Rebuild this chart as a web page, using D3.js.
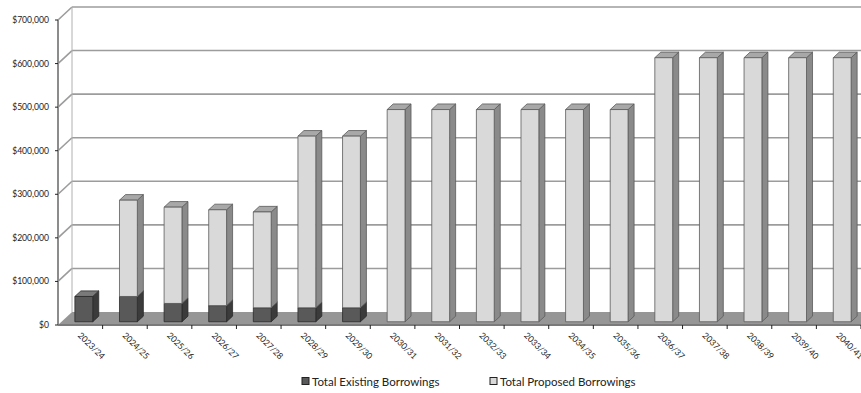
<!DOCTYPE html>
<html>
<head>
<meta charset="utf-8">
<script src="https://cdn.jsdelivr.net/npm/d3@7"></script>
<style>
  body { margin: 0; background: #fff; }
  svg text { font-family: Lato, "Liberation Sans", sans-serif; fill: #222; }
</style>
</head>
<body>
<svg id="chart" width="861" height="393"></svg>
<script>
(function (d3) {

    /***** Data *****/
    var years = ["2023/24", "2024/25", "2025/26", "2026/27", "2027/28", "2028/29", "2029/30",
                 "2030/31", "2031/32", "2032/33", "2033/34", "2034/35", "2035/36",
                 "2036/37", "2037/38", "2038/39", "2039/40", "2040/41"];
    var existingBorrowings = [58000, 58000, 42000, 37000, 32000, 32000, 32000,
                              0, 0, 0, 0, 0, 0, 0, 0, 0, 0, 0];
    var proposedBorrowings = [0, 221000, 221000, 220000, 220000, 394000, 394000,
                              487000, 487000, 487000, 487000, 487000, 487000,
                              606000, 606000, 606000, 606000, 606000];
    var yTickValues = [0, 100000, 200000, 300000, 400000, 500000, 600000, 700000];
    var seriesNames = ["Total Existing Borrowings", "Total Proposed Borrowings"];

    /***** Configuration *****/
    var width = 861, height = 393;
    var plot = { left: 58, right: 861, top: 20, bottom: 325 };
    var depth = { dx: 14, dy: -13 };        // 3D wall depth
    var barFront = 0.25, barBack = 0.68;    // bar position in depth (fraction)

    var palette = {
        existing: { front: "#595959", side: "#3b3b3b", top: "#7a7a7a", stroke: "#2a2a2a" },
        proposed: { front: "#d9d9d9", side: "#8a8a8a", top: "#a8a8a8", stroke: "#5a5a5a" }
    };

    /***** Scales *****/
    var x = d3.scaleBand().domain(years).range([plot.left, plot.right]).padding(0);
    var y = d3.scaleLinear().domain([0, 700000]).range([plot.bottom, plot.top]);
    var barWidth = x.bandwidth() * 0.4;

    var svg = d3.select("#chart");

    function off(t) { return [depth.dx * t, depth.dy * t]; }

    /***** Walls and gridlines *****/
    var grid = svg.append("g");
    var back = off(1);

    // diagonal lines on the left wall
    grid.selectAll(".side-line")
        .data(yTickValues.slice(1))
        .enter().append("line")
        .attr("x1", plot.left).attr("y1", function (d) { return y(d); })
        .attr("x2", plot.left + back[0]).attr("y2", function (d) { return y(d) + back[1]; })
        .attr("stroke", "#9c9c9c").attr("stroke-width", 1.6);

    // back wall gridlines
    grid.selectAll(".back-line")
        .data(yTickValues.slice(1))
        .enter().append("line")
        .attr("x1", plot.left + back[0]).attr("y1", function (d) { return y(d) + back[1]; })
        .attr("x2", width).attr("y2", function (d) { return y(d) + back[1]; })
        .attr("stroke", "#9c9c9c").attr("stroke-width", 1.6);

    // back wall left edge
    grid.append("line")
        .attr("x1", plot.left + back[0]).attr("y1", y(700000) + back[1])
        .attr("x2", plot.left + back[0]).attr("y2", y(0) + back[1])
        .attr("stroke", "#b0b0b0").attr("stroke-width", 1);

    // floor
    svg.append("polygon")
        .attr("points", [
            [plot.left, y(0)], [plot.right + 20, y(0)],
            [plot.right + 20 + back[0], y(0) + back[1]], [plot.left + back[0], y(0) + back[1]]
        ].join(" "))
        .attr("fill", "#969696");

    /***** Y axis *****/
    var yAxis = svg.append("g");
    yAxis.append("line")
        .attr("x1", plot.left).attr("y1", y(700000))
        .attr("x2", plot.left).attr("y2", y(0))
        .attr("stroke", "#8c8c8c").attr("stroke-width", 2);
    yAxis.selectAll(".tick")
        .data(yTickValues)
        .enter().append("line")
        .attr("x1", plot.left - 3).attr("x2", plot.left)
        .attr("y1", function (d) { return y(d); }).attr("y2", function (d) { return y(d); })
        .attr("stroke", "#222").attr("stroke-width", 1);
    var fmt = d3.format(",");
    yAxis.selectAll(".label")
        .data(yTickValues)
        .enter().append("text")
        .attr("x", plot.left - 9)
        .attr("y", function (d) { return y(d); })
        .attr("dy", "0.35em")
        .attr("text-anchor", "end")
        .style("font-size", "8.6px")
        .text(function (d) { return "$" + fmt(d); });

    /***** X axis *****/
    var xAxis = svg.append("g");
    xAxis.append("line")
        .attr("x1", plot.left).attr("y1", y(0))
        .attr("x2", width).attr("y2", y(0))
        .attr("stroke", "#7a7a7a").attr("stroke-width", 2);
    xAxis.selectAll(".tick")
        .data(years)
        .enter().append("line")
        .attr("x1", function (d) { return x(d) + x.bandwidth(); })
        .attr("x2", function (d) { return x(d) + x.bandwidth(); })
        .attr("y1", y(0)).attr("y2", y(0) + 4)
        .attr("stroke", "#222").attr("stroke-width", 1);
    xAxis.selectAll(".label")
        .data(years)
        .enter().append("text")
        .attr("transform", function (d) {
            return "translate(" + (x(d) + x.bandwidth() / 2 - 3) + "," + (y(0) + 11) + ") rotate(45)";
        })
        .style("font-size", "8.6px")
        .text(function (d) { return d; });

    /***** Bars *****/
    var stacks = years.map(function (yr, i) {
        var e = existingBorrowings[i], p = proposedBorrowings[i];
        return [
            { year: yr, v0: 0, v1: e, kind: "existing" },
            { year: yr, v0: e, v1: e + p, kind: "proposed" }
        ].filter(function (s) { return s.v1 > s.v0; });
    });

    var f = off(barFront), b = off(barBack);
    var sideW = b[0] - f[0], sideH = b[1] - f[1];

    var bars = svg.append("g");
    stacks.forEach(function (segs) {
        segs.forEach(function (s) {
            var c = palette[s.kind];
            var x0 = x(s.year) + (x.bandwidth() - barWidth) / 2 + f[0];
            var x1 = x0 + barWidth;
            var yTop = y(s.v1) + f[1], yBot = y(s.v0) + f[1];
            var g = bars.append("g").attr("stroke", c.stroke).attr("stroke-width", 0.8)
                        .attr("stroke-linejoin", "round");
            g.append("polygon")
                .attr("points", [[x1, yBot], [x1 + sideW, yBot + sideH], [x1 + sideW, yTop + sideH], [x1, yTop]].join(" "))
                .attr("fill", c.side);
            g.append("polygon")
                .attr("points", [[x0, yTop], [x1, yTop], [x1 + sideW, yTop + sideH], [x0 + sideW, yTop + sideH]].join(" "))
                .attr("fill", c.top);
            g.append("rect")
                .attr("x", x0).attr("y", yTop)
                .attr("width", barWidth).attr("height", yBot - yTop)
                .attr("fill", c.front);
        });
    });

    /***** Legend *****/
    var legendX = [302, 490];
    var legend = svg.append("g");
    seriesNames.forEach(function (name, i) {
        var c = i === 0 ? palette.existing : palette.proposed;
        legend.append("rect")
            .attr("x", legendX[i]).attr("y", 377.5)
            .attr("width", 7).attr("height", 7)
            .attr("fill", c.front).attr("stroke", "#222").attr("stroke-width", 1);
        legend.append("text")
            .attr("x", legendX[i] + 10).attr("y", 385.5)
            .style("font-size", "11.5px")
            .text(name);
    });

})(d3);
</script>
</body>
</html>
